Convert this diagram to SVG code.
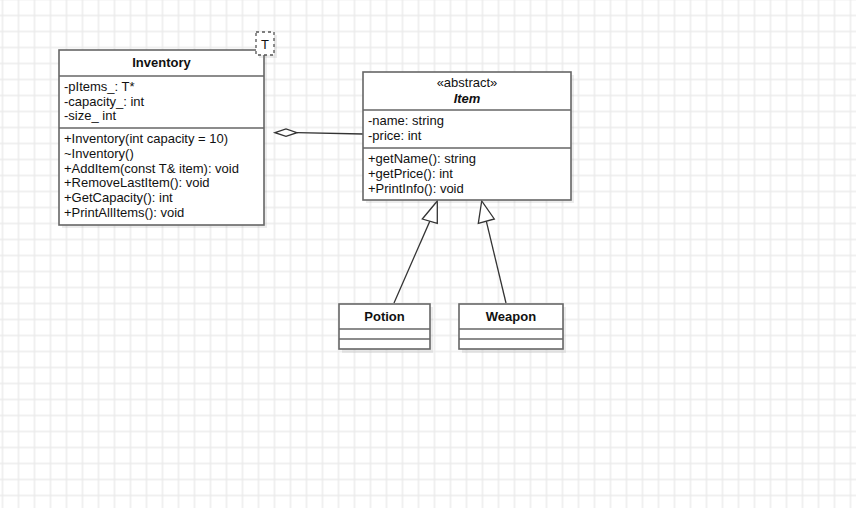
<svg xmlns="http://www.w3.org/2000/svg" width="856" height="508" viewBox="0 0 856 508">
<defs>
<pattern id="grid" width="16" height="16" patternUnits="userSpaceOnUse" x="-5.5" y="7.5">
<path d="M8 0 V16 M0 8 H16" stroke="#ebebeb" stroke-width="1.5" fill="none"/>
</pattern>
</defs>
<style>
.box{fill:#ffffff;stroke:#666666;stroke-width:1.6}
.shadow{fill:#808080;opacity:0.15}
.sep{stroke:#666666;stroke-width:1.6}
.t{font-family:"Liberation Sans",Arial,sans-serif;font-size:13px;fill:#111111}
.b{font-weight:bold;text-anchor:middle}
.c{text-anchor:middle}
.edge{stroke:#333333;stroke-width:1.3;fill:none}
.head{stroke:#333333;stroke-width:1.3;fill:#ffffff}
</style>
<rect x="0" y="0" width="856" height="508" fill="#ffffff"/>
<rect x="0" y="0" width="856" height="508" fill="url(#grid)"/>

<g id="connectors">
<path class="edge" d="M297 132.7 L363 134"/>
<polygon class="head" points="275,132.7 286,129 297,132.7 286,136.3"/>
<path class="edge" d="M394 303 L429.8 221.2"/>
<polygon class="head" points="437.3,201 422.3,219 437.3,223.3"/>
<path class="edge" d="M506 303 L486.3 221.2"/>
<polygon class="head" points="481.7,201 478.3,223.3 494.3,219"/>
</g>

<g id="inventory">
<rect class="shadow" x="62" y="53" width="205" height="175"/>
<rect class="box" x="59" y="50" width="205" height="175"/>
<line class="sep" x1="59" y1="76" x2="264" y2="76"/>
<line class="sep" x1="59" y1="128" x2="264" y2="128"/>
<text class="t b" x="161.5" y="67.3">Inventory</text>
<text class="t" x="64" y="91.2">-pItems_: T*</text>
<text class="t" x="64" y="105.8">-capacity_: int</text>
<text class="t" x="64" y="120.4">-size_ int</text>
<text class="t" x="64" y="143">+Inventory(int capacity = 10)</text>
<text class="t" x="64" y="157.8">~Inventory()</text>
<text class="t" x="64" y="172.6">+AddItem(const T&amp; item): void</text>
<text class="t" x="64" y="187.4">+RemoveLastItem(): void</text>
<text class="t" x="64" y="202.2">+GetCapacity(): int</text>
<text class="t" x="64" y="217">+PrintAllItems(): void</text>
</g>

<g id="template-param">
<rect class="shadow" x="259" y="35" width="18" height="23"/>
<rect x="256" y="32" width="18" height="23" fill="#ffffff" stroke="#555555" stroke-width="1.3" stroke-dasharray="3 3"/>
<text class="t c" x="265" y="48.5">T</text>
</g>

<g id="item">
<rect class="shadow" x="366" y="75" width="208" height="128"/>
<rect class="box" x="363" y="72" width="208" height="128"/>
<line class="sep" x1="363" y1="110" x2="571" y2="110"/>
<line class="sep" x1="363" y1="148" x2="571" y2="148"/>
<text class="t c" x="467" y="86.8" font-size="12">«abstract»</text>
<text class="t b" x="467" y="103" font-style="italic">Item</text>
<text class="t" x="368" y="124.6">-name: string</text>
<text class="t" x="368" y="140.2">-price: int</text>
<text class="t" x="368" y="163">+getName(): string</text>
<text class="t" x="368" y="178">+getPrice(): int</text>
<text class="t" x="368" y="193">+PrintInfo(): void</text>
</g>

<g id="potion">
<rect class="shadow" x="342" y="307" width="91" height="46"/>
<rect class="box" x="339" y="304" width="91" height="45"/>
<line class="sep" x1="339" y1="329" x2="430" y2="329"/>
<line class="sep" x1="339" y1="339" x2="430" y2="339"/>
<text class="t b" x="384.5" y="320.6">Potion</text>
</g>

<g id="weapon">
<rect class="shadow" x="462" y="307" width="104" height="46"/>
<rect class="box" x="459" y="304" width="104" height="45"/>
<line class="sep" x1="459" y1="329" x2="563" y2="329"/>
<line class="sep" x1="459" y1="339" x2="563" y2="339"/>
<text class="t b" x="511" y="320.6">Weapon</text>
</g>
</svg>
